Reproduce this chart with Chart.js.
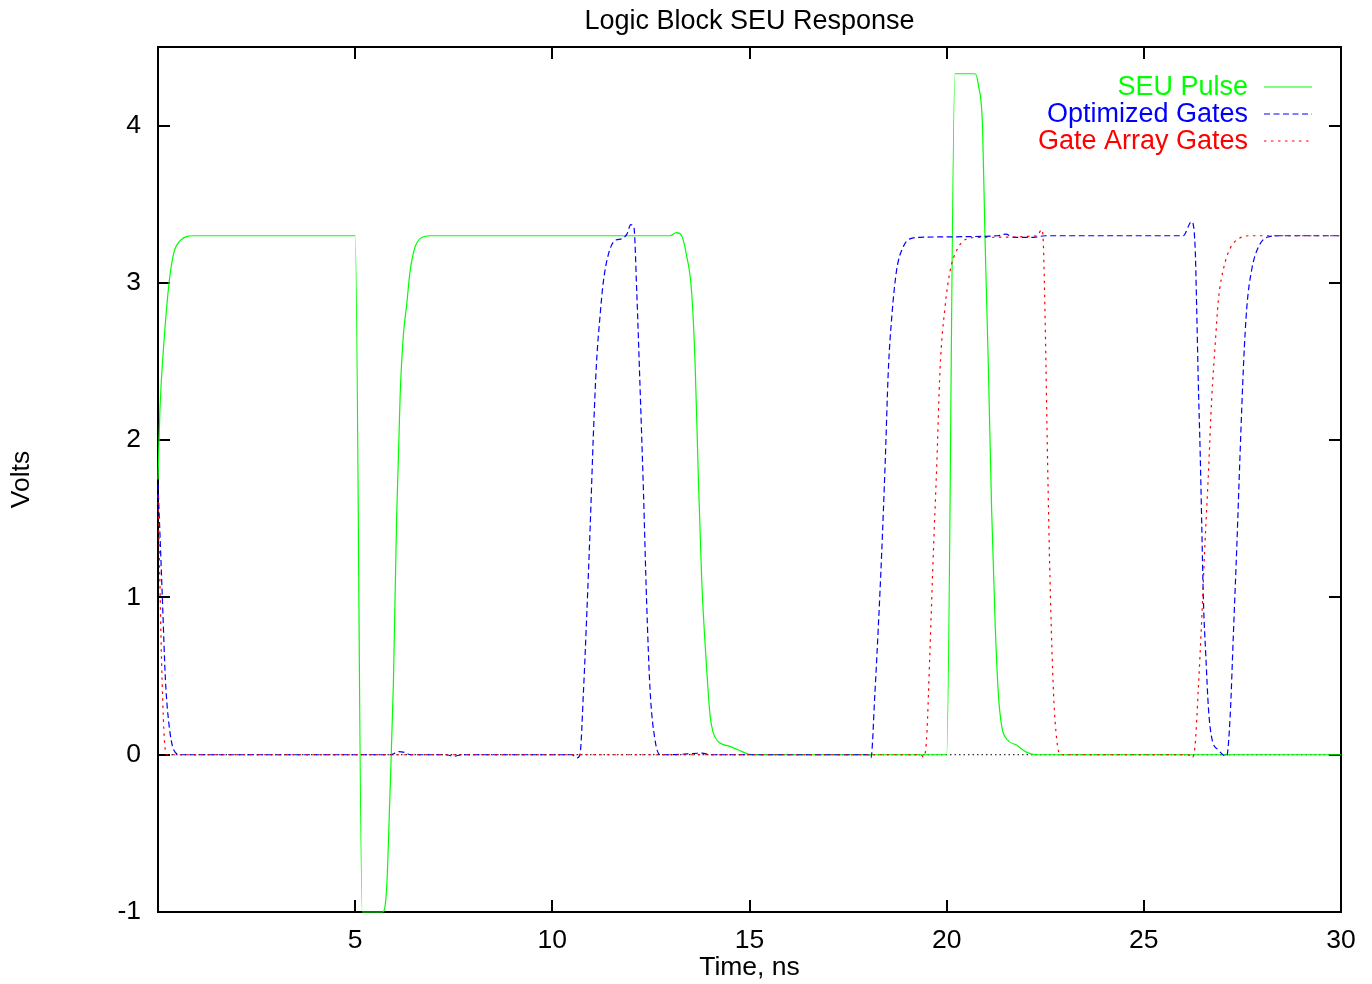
<!DOCTYPE html>
<html><head><meta charset="utf-8">
<script src="https://cdn.jsdelivr.net/npm/chart.js@4.4.1/dist/chart.umd.min.js"></script>
<style>html,body{margin:0;padding:0;background:#fff;} #wrap{width:1372px;height:984px;position:relative;}</style>
</head><body><div id="wrap"><canvas id="c" width="1372" height="984"></canvas></div>
<script>
const chartTitle = 'Logic Block SEU Response';
const xTitle = 'Time, ns';
const yTitle = 'Volts';
const seriesNames = ['SEU Pulse', 'Optimized Gates', 'Gate Array Gates'];
const xTicks = [5, 10, 15, 20, 25, 30];
const yTicks = [-1, 0, 1, 2, 3, 4];

// [time ns, volts]
const seuPulse = [
  [0,1.75],[0.05,2.2],[0.15,2.62],[0.28,3.0],[0.40,3.19],[0.57,3.27],[0.9,3.3],[1.5,3.3],
  [5.0,3.3],[5.18,-1],[5.70,-1],[5.80,-0.84],[5.88,-0.27],[5.97,0.46],[6.05,1.49],[6.14,2.28],
  [6.22,2.66],[6.31,2.87],[6.39,3.07],[6.52,3.23],[6.64,3.28],[6.90,3.3],[7.5,3.3],
  [12.98,3.3],[13.15,3.32],[13.28,3.3],[13.40,3.18],[13.53,2.95],[13.62,2.49],[13.70,1.79],
  [13.79,1.10],[13.90,0.6],[14.0,0.25],[14.08,0.14],[14.2,0.085],[14.5,0.053],[14.72,0.03],
  [14.95,0.006],[15.1,0],[20.0,0],[20.21,4.33],[20.72,4.33],[20.81,4.25],[20.91,3.99],
  [20.97,3.31],[21.06,2.44],[21.14,1.56],[21.23,0.83],[21.31,0.39],[21.40,0.175],[21.52,0.10],
  [21.78,0.06],[22.03,0.015],[22.28,0],[30,0]
];
const optimizedGates = [
  [0,1.72],[0.05,1.4],[0.11,1.0],[0.19,0.47],[0.28,0.19],[0.40,0.03],[0.57,0],
  [5.9,0],[6.1,0.02],[6.25,0.015],[6.4,0],[7.3,0],[7.5,-0.01],[7.7,0],
  [10.5,0],[10.62,-0.02],[10.70,0],[10.79,0.405],[10.87,0.87],[10.96,1.45],[11.04,2.03],
  [11.12,2.49],[11.21,2.79],[11.29,3.0],[11.42,3.18],[11.59,3.27],[11.76,3.28],[11.89,3.31],
  [11.99,3.37],[12.07,3.35],[12.14,2.95],[12.22,2.37],[12.31,1.68],[12.39,0.98],[12.48,0.405],
  [12.60,0.10],[12.73,0],[13.0,0],[13.8,0.01],[14.0,0],
  [18.0,0],[18.08,-0.02],[18.18,0.39],[18.27,0.83],[18.35,1.27],[18.44,1.85],[18.52,2.44],
  [18.61,2.79],[18.73,3.08],[18.90,3.23],[19.07,3.28],[19.33,3.29],[21.3,3.3],[21.5,3.31],
  [21.7,3.29],[22.2,3.29],[22.5,3.3],[22.7,3.3],
  [26.0,3.3],[26.21,3.39],[26.30,3.23],[26.34,2.84],[26.38,2.38],[26.43,1.91],[26.47,1.45],
  [26.51,0.99],[26.57,0.64],[26.64,0.29],[26.72,0.11],[26.89,0.03],[27.10,-0.01],[27.19,0.25],
  [27.27,0.76],[27.36,1.34],[27.44,1.91],[27.53,2.49],[27.61,2.84],[27.74,3.09],[27.91,3.23],
  [28.12,3.29],[28.46,3.3],[30,3.3]
];
const gateArrayGates = [
  [0,1.65],[0.04,1.2],[0.09,0.6],[0.15,0.15],[0.19,0.02],[0.22,0],
  [19.35,0],[19.41,-0.015],[19.49,0.10],[19.58,0.69],[19.66,1.27],[19.75,1.85],[19.83,2.44],
  [19.96,2.85],[20.09,3.08],[20.26,3.21],[20.51,3.28],[20.85,3.29],[22.3,3.3],[22.41,3.34],
  [22.45,3.26],[22.50,2.73],[22.56,1.85],[22.62,1.12],[22.71,0.39],[22.79,0.10],[22.88,0],
  [26.12,0],[26.21,-0.02],[26.30,0.06],[26.38,0.41],[26.47,0.87],[26.55,1.34],[26.64,1.80],
  [26.72,2.26],[26.81,2.61],[26.89,2.89],[27.02,3.09],[27.19,3.22],[27.40,3.28],[27.70,3.30],
  [30,3.3]
];

const FONT = 'Liberation Sans, Arial, Helvetica, sans-serif';
const FS = 26.5;
const TFS = 27;
const colors = ['#00ff00', '#0000ff', '#ff0000'];
const dashes = [[], [6, 3.5], [2.5, 4.5]];
const seriesData = [seuPulse, optimizedGates, gateArrayGates];

const datasets = seriesData.map((arr, i) => ({
  label: seriesNames[i],
  data: arr.map(p => ({x: p[0], y: p[1]})),
  borderColor: colors[i],
  backgroundColor: colors[i],
  borderWidth: 1.2,
  borderDash: dashes[i],
  pointRadius: 0,
  fill: false,
  tension: 0,
  cubicInterpolationMode: 'monotone',
  clip: 4,
  order: 3 - i
}));

const framePlugin = {
  id: 'frame',
  beforeDatasetsDraw(chart) {
    const {ctx, chartArea: a, scales: {x, y}} = chart;
    ctx.save();
    // border and inward ticks (under the curves)
    ctx.strokeStyle = '#000';
    ctx.lineWidth = 2;
    ctx.setLineDash([]);
    const TL = 12;
    ctx.beginPath();
    xTicks.forEach(v => {
      const px = Math.round(x.getPixelForValue(v));
      ctx.moveTo(px, a.bottom); ctx.lineTo(px, a.bottom - TL);
      ctx.moveTo(px, a.top); ctx.lineTo(px, a.top + TL);
    });
    yTicks.forEach(v => {
      const py = Math.round(y.getPixelForValue(v));
      ctx.moveTo(a.left, py); ctx.lineTo(a.left + TL, py);
      ctx.moveTo(a.right, py); ctx.lineTo(a.right - TL, py);
    });
    ctx.stroke();
    ctx.strokeRect(a.left, a.top, a.right - a.left, a.bottom - a.top);
    // dotted zero axis
    const y0 = y.getPixelForValue(0);
    ctx.lineWidth = 1;
    ctx.setLineDash([1.5, 3]);
    ctx.beginPath(); ctx.moveTo(a.left, y0); ctx.lineTo(a.right, y0); ctx.stroke();
    ctx.restore();
  },
  afterDatasetsDraw(chart) {
    const {ctx, chartArea: a} = chart;
    ctx.save();
    // title
    ctx.fillStyle = '#000';
    ctx.font = TFS + 'px ' + FONT;
    ctx.textAlign = 'center';
    ctx.textBaseline = 'middle';
    ctx.fillText(chartTitle, (a.left + a.right) / 2, 22);

    // legend
    ctx.textAlign = 'right';
    const lx = 1248, l1 = 1264, l2 = 1312;
    seriesNames.forEach((n, i) => {
      const ly = 87 + i * 27;
      ctx.fillStyle = colors[i];
      ctx.fillText(n, lx, ly + 1);
      ctx.strokeStyle = colors[i];
      ctx.lineWidth = 1.2;
      ctx.setLineDash(dashes[i]);
      ctx.beginPath(); ctx.moveTo(l1, ly); ctx.lineTo(l2, ly); ctx.stroke();
    });
    ctx.restore();
  }
};

new Chart(document.getElementById('c'), {
  type: 'line',
  data: {datasets},
  plugins: [framePlugin],
  options: {
    responsive: false,
    animation: false,
    devicePixelRatio: 1,
    layout: {padding: {top: 47, right: 31, left: 0, bottom: 0}},
    plugins: {legend: {display: false}, tooltip: {enabled: false}, title: {display: false}},
    scales: {
      x: {
        type: 'linear', min: 0, max: 30,
        afterBuildTicks: s => { s.ticks = xTicks.map(v => ({value: v})); },
        afterFit: s => { s.height = 72; s.paddingLeft = 0; s.paddingRight = 0; },
        grid: {display: false},
        border: {display: false},
        ticks: {color: '#000', font: {family: FONT, size: FS}, padding: 5, maxRotation: 0, autoSkip: false},
        title: {display: true, text: xTitle, color: '#000', font: {family: FONT, size: FS}, padding: {top: 0, bottom: 0}}
      },
      y: {
        type: 'linear', min: -1, max: 4.5,
        afterBuildTicks: s => { s.ticks = yTicks.map(v => ({value: v})); },
        afterFit: s => { s.width = 158; s.paddingTop = 0; s.paddingBottom = 0; },
        grid: {display: false},
        border: {display: false},
        ticks: {color: '#000', font: {family: FONT, size: FS}, padding: 9},
        title: {display: true, text: yTitle, color: '#000', font: {family: FONT, size: FS}, padding: {top: 6, bottom: 0}}
      }
    }
  }
});
</script></body></html>
